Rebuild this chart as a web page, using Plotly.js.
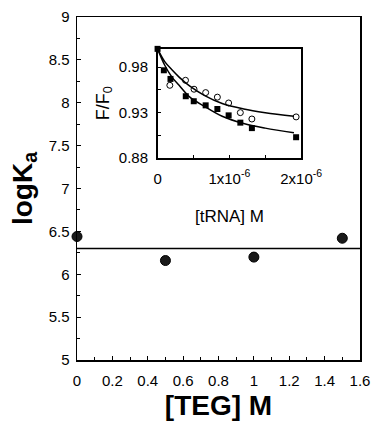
<!DOCTYPE html>
<html>
<head>
<meta charset="utf-8">
<script src="https://cdn.plot.ly/plotly-3.0.1.min.js"></script>
<style>html,body{margin:0;padding:0;background:#fff;}#chart{width:374px;height:421px;}</style>
</head>
<body>
<div id="chart"></div>
<script>
// Main panel: logKa vs [TEG]
var tegConc = [0, 0.5, 1.0, 1.5];
var logKa = [6.44, 6.16, 6.20, 6.42];
var meanLineX = [0, 1.6];
var meanLineY = [6.30, 6.30];

// Inset: F/F0 vs [tRNA]
var sqX = [0, 0.0875e-6, 0.18e-6, 0.393e-6, 0.504e-6, 0.67e-6, 0.833e-6, 0.99e-6, 1.153e-6, 1.314e-6, 1.93e-6];
var sqY = [1.0, 0.9765, 0.967, 0.948, 0.9425, 0.938, 0.934, 0.927, 0.919, 0.913, 0.903];
var ciX = [0.171e-6, 0.389e-6, 0.508e-6, 0.67e-6, 0.833e-6, 0.99e-6, 1.153e-6, 1.314e-6, 1.93e-6];
var ciY = [0.960, 0.9655, 0.9557, 0.952, 0.947, 0.9406, 0.930, 0.923, 0.9253];
var curveX = [0, 0.1e-6, 0.2e-6, 0.3e-6, 0.45e-6, 0.65e-6, 0.9e-6, 1.2e-6, 1.5e-6, 1.9e-6];
var upperCurve = [1.0, 0.986, 0.977, 0.969, 0.959, 0.949, 0.940, 0.934, 0.930, 0.926];
var lowerCurve = [1.0, 0.982, 0.969, 0.960, 0.947, 0.937, 0.926, 0.918, 0.913, 0.908];

var insetXTicks = [0, 1e-6, 2e-6];
var insetXTickText = ['0', '1x10<sup>-6</sup>', '2x10<sup>-6</sup>'];
var insetYTicks = [0.88, 0.93, 0.98];
var insetYTickText = ['0.88', '0.93', '0.98'];

var FONT = 'Liberation Sans, Arial, Helvetica, sans-serif';

var traces = [
  {x: meanLineX, y: meanLineY, type: 'scatter', mode: 'lines', line: {color: '#000', width: 1.3}, xaxis: 'x', yaxis: 'y', hoverinfo: 'skip'},
  {x: tegConc, y: logKa, type: 'scatter', mode: 'markers', marker: {color: '#1a1a1a', size: 10, line: {color: '#000', width: 1}}, xaxis: 'x', yaxis: 'y', cliponaxis: false},
  {x: curveX, y: upperCurve, type: 'scatter', mode: 'lines', line: {color: '#000', width: 1.5, shape: 'spline'}, xaxis: 'x2', yaxis: 'y2'},
  {x: curveX, y: lowerCurve, type: 'scatter', mode: 'lines', line: {color: '#000', width: 1.5, shape: 'spline'}, xaxis: 'x2', yaxis: 'y2'},
  {x: ciX, y: ciY, type: 'scatter', mode: 'markers', marker: {symbol: 'circle-open', color: '#000', size: 6, line: {width: 1, color: '#000'}}, xaxis: 'x2', yaxis: 'y2', cliponaxis: false},
  {x: sqX, y: sqY, type: 'scatter', mode: 'markers', marker: {symbol: 'square', color: '#000', size: 6}, xaxis: 'x2', yaxis: 'y2', cliponaxis: false}
];

var layout = {
  width: 374, height: 421,
  margin: {l: 77, r: 13.5, t: 16.7, b: 61, pad: 0},
  paper_bgcolor: '#fff', plot_bgcolor: 'rgba(0,0,0,0)',
  showlegend: false,
  font: {family: FONT, color: '#000', size: 15},
  xaxis: {
    range: [0, 1.6], dtick: 0.2, tick0: 0, showgrid: false, zeroline: false,
    showline: true, linecolor: '#000', linewidth: 1.5, mirror: true,
    ticks: 'inside', ticklen: 4, tickwidth: 1, tickcolor: '#000',
    minor: {ticks: 'inside', dtick: 0.1, ticklen: 3, tickwidth: 1, tickcolor: '#000', showgrid: false},
    tickfont: {family: FONT, size: 15}, ticklabelstandoff: 6,
    title: {text: '<b>[TEG] M</b>', font: {family: FONT, size: 28}, standoff: 14},
    domain: [0, 1]
  },
  yaxis: {
    range: [5, 9], dtick: 0.5, tick0: 5, showgrid: false, zeroline: false,
    showline: true, linecolor: '#000', linewidth: 1.5, mirror: true,
    ticks: 'inside', ticklen: 4, tickwidth: 1, tickcolor: '#000',
    minor: {ticks: 'inside', dtick: 0.25, ticklen: 3, tickwidth: 1, tickcolor: '#000', showgrid: false},
    tickfont: {family: FONT, size: 15}, ticklabelstandoff: 3,
    title: {text: '<b>logK<sub>a</sub></b>', font: {family: FONT, size: 28}, standoff: 8},
    domain: [0, 1]
  },
  xaxis2: {
    anchor: 'y2', domain: [0.2847, 0.792], range: [0, 2e-6],
    tickvals: insetXTicks, ticktext: insetXTickText,
    showgrid: false, zeroline: false, showline: true, linecolor: '#000', linewidth: 1.5, mirror: true,
    ticks: 'inside', ticklen: 3, tickwidth: 1, tickcolor: '#000',
    minor: {ticks: 'inside', tickvals: [0.5e-6, 1.5e-6], ticklen: 3, tickwidth: 1, tickcolor: '#000', showgrid: false},
    tickfont: {family: FONT, size: 15}, ticklabelstandoff: 6
  },
  yaxis2: {
    anchor: 'x2', domain: [0.5884, 0.9071], range: [0.88, 1.0],
    tickvals: insetYTicks, ticktext: insetYTickText,
    showgrid: false, zeroline: false, showline: true, linecolor: '#000', linewidth: 1.5, mirror: true,
    ticks: 'inside', ticklen: 3, tickwidth: 1, tickcolor: '#000',
    minor: {ticks: 'inside', tickvals: [0.905, 0.955], ticklen: 3, tickwidth: 1, tickcolor: '#000', showgrid: false},
    tickfont: {family: FONT, size: 15}, ticklabelstandoff: 5
  },
  annotations: [
    {text: '[tRNA] M', xref: 'paper', yref: 'paper', x: (229.7 - 77) / 283.5, y: (360 - 216) / 343.3,
     xanchor: 'center', yanchor: 'middle', showarrow: false, font: {family: FONT, size: 17}},
    {text: 'F/F<sub>0</sub>', xref: 'paper', yref: 'paper', x: (104 - 77) / 283.5, y: (360 - 103) / 343.3,
     xanchor: 'center', yanchor: 'middle', showarrow: false, textangle: -90, font: {family: FONT, size: 18}}
  ]
};

Plotly.newPlot('chart', traces, layout, {displayModeBar: false, staticPlot: true});
</script>
</body>
</html>
